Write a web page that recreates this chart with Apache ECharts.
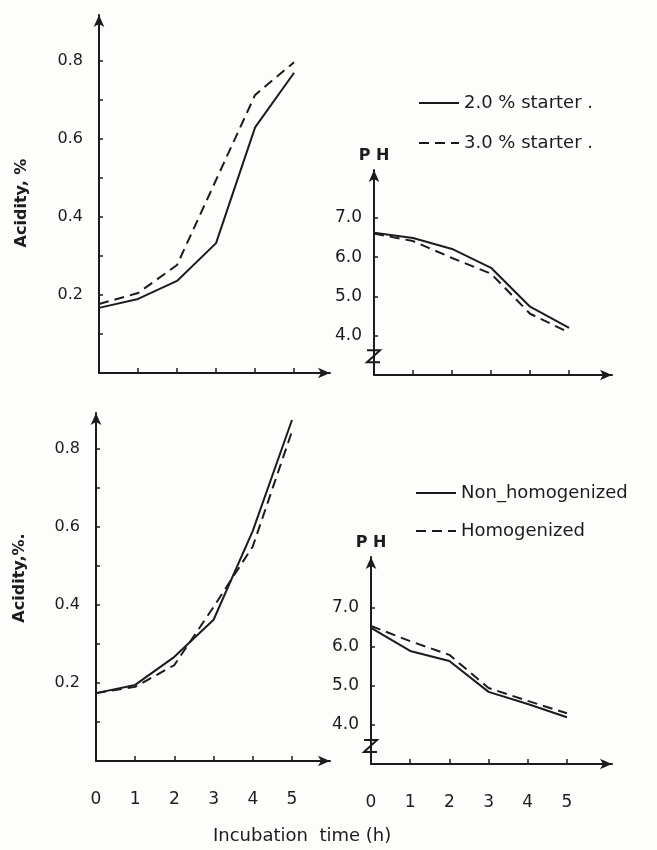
<!DOCTYPE html>
<html>
<head>
<meta charset="utf-8">
<script src="https://cdn.jsdelivr.net/npm/echarts@6/dist/echarts.min.js"></script>
<style>
  html, body { margin: 0; padding: 0; background: #fdfdfb; }
  #chart { width: 657px; height: 850px; }
</style>
</head>
<body>
<div id="chart"></div>
<script>
// 数据：培养时间 (h)
const hours = [0, 1, 2, 3, 4, 5];

// 上图：发酵剂用量
const acidStarter2 = [0.167, 0.19, 0.236, 0.333, 0.63, 0.77];
const acidStarter3 = [0.177, 0.205, 0.277, 0.495, 0.713, 0.797];
const phStarter2 = [6.62, 6.49, 6.21, 5.73, 4.74, 4.20];
const phStarter3 = [6.60, 6.41, 5.98, 5.58, 4.56, 4.08];

// 下图：均质 / 未均质
const acidNonHomog = [0.174, 0.195, 0.267, 0.362, 0.59, 0.874];
const acidHomog = [0.174, 0.19, 0.246, 0.395, 0.55, 0.845];
const phNonHomog = [6.49, 5.90, 5.64, 4.85, 4.54, 4.20];
const phHomog = [6.54, 6.15, 5.80, 4.95, 4.62, 4.30];

// 刻度
const acidTicks = [0.1, 0.2, 0.3, 0.4, 0.5, 0.6, 0.7, 0.8];
const acidLabels = [0.2, 0.4, 0.6, 0.8];
const phTicks = [4, 5, 6, 7];
const hourTicks = [1, 2, 3, 4, 5];

const names = ['2.0 % starter .', '3.0 % starter .', 'Non_homogenized', 'Homogenized'];

const ink = '#1c1c1c';
const font = 'DejaVu Sans';

const myChart = echarts.init(document.getElementById('chart'));

function pairs(ys) {
    return hours.map((h, i) => [h, ys[i]]);
}

function xAxis(gridIndex, max, showLabels) {
    return {
        type: 'value', gridIndex: gridIndex, min: 0, max: max,
        splitLine: { show: false },
        axisLine: { lineStyle: { color: ink, width: 2 }, symbol: ['none', 'arrow'], symbolSize: [8, 12] },
        axisTick: { inside: true, length: 5, lineStyle: { color: ink, width: 1.5 }, customValues: hourTicks },
        axisLabel: {
            show: showLabels, customValues: hours, margin: 30,
            color: ink, fontSize: 17, fontFamily: font
        }
    };
}

function yAxis(gridIndex, min, max, ticks, labels, margin, size, name) {
    return {
        type: 'value', gridIndex: gridIndex, min: min, max: max,
        name: name, nameLocation: 'end', nameGap: 6,
        nameTextStyle: { color: ink, fontSize: 16, fontFamily: font, fontWeight: 'bold' },
        splitLine: { show: false },
        axisLine: { lineStyle: { color: ink, width: 2 }, symbol: ['none', 'arrow'], symbolSize: [8, 12] },
        axisTick: { inside: true, length: 4, lineStyle: { color: ink, width: 1.5 }, customValues: ticks },
        axisLabel: {
            customValues: labels, margin: margin,
            color: ink, fontSize: size, fontFamily: font,
            formatter: v => v.toFixed(1)
        }
    };
}

function line(name, idx, ys, dashed) {
    return {
        name: name, type: 'line', xAxisIndex: idx, yAxisIndex: idx,
        data: pairs(ys), symbol: 'none', silent: true,
        lineStyle: { color: ink, width: 2, type: dashed ? [10, 6] : 'solid' },
        itemStyle: { color: ink }
    };
}

const legendBase = {
    orient: 'vertical', itemWidth: 40, itemHeight: 14,
    itemStyle: { opacity: 0 },
    lineStyle: { width: 2 },
    textStyle: { color: ink, fontSize: 18, fontFamily: font }
};

const option = {
    backgroundColor: '#fdfdfb',
    animation: false,
    title: {
        text: 'Incubation  time (h)', left: 208, top: 822,
        textStyle: { color: ink, fontSize: 18, fontWeight: 'normal', fontFamily: font }
    },
    legend: [
        Object.assign({ data: [names[0], names[1]], left: 413, top: 89, itemGap: 22 }, legendBase),
        Object.assign({ data: [names[2], names[3]], left: 410, top: 479, itemGap: 20 }, legendBase)
    ],
    grid: [
        { left: 99, top: 15, width: 231, height: 358 },
        { left: 374, top: 170, width: 238, height: 205 },
        { left: 96, top: 413, width: 234, height: 348 },
        { left: 371, top: 557, width: 241, height: 207 }
    ],
    xAxis: [
        xAxis(0, 5.92, false),
        xAxis(1, 6.1, false),
        xAxis(2, 5.97, true),
        xAxis(3, 6.15, true)
    ],
    yAxis: [
        yAxis(0, 0, 0.918, acidTicks, acidLabels, 16, 16, ''),
        yAxis(1, 3, 8.22, phTicks, phTicks, 12, 17, 'P H'),
        yAxis(2, 0, 0.892, acidTicks, acidLabels, 16, 16, ''),
        yAxis(3, 3, 8.31, phTicks, phTicks, 12, 17, 'P H')
    ],
    series: [
        line(names[0], 0, acidStarter2, false),
        line(names[1], 0, acidStarter3, true),
        line(names[0], 1, phStarter2, false),
        line(names[1], 1, phStarter3, true),
        line(names[2], 2, acidNonHomog, false),
        line(names[3], 2, acidHomog, true),
        line(names[2], 3, phNonHomog, false),
        line(names[3], 3, phHomog, true)
    ]
};

myChart.setOption(option);

// 纵轴标题与断轴符号
function zMark(gridIndex, value) {
    const p = myChart.convertToPixel({ xAxisIndex: gridIndex, yAxisIndex: gridIndex }, [0, value]);
    return {
        type: 'polyline', silent: true,
        shape: { points: [[p[0] - 7, p[1] - 6], [p[0] + 6, p[1] - 6], [p[0] - 7, p[1] + 6], [p[0] + 6, p[1] + 6]] },
        style: { stroke: ink, lineWidth: 2, fill: null }
    };
}

function yTitle(text, x, y) {
    return {
        type: 'text', x: x, y: y, rotation: Math.PI / 2, silent: true,
        style: {
            text: text, fill: ink, font: 'bold 16px "DejaVu Sans"',
            align: 'center', verticalAlign: 'middle'
        }
    };
}

myChart.setOption({
    graphic: [
        yTitle('Acidity, %', 22, 203),
        yTitle('Acidity,%.', 20, 578),
        zMark(1, 3.48),
        zMark(3, 3.46)
    ]
});
</script>
</body>
</html>
